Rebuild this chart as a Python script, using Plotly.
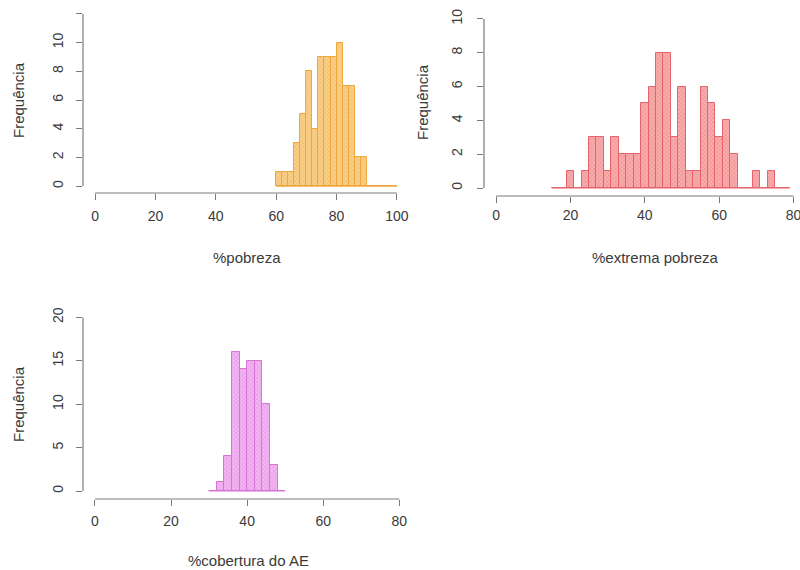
import plotly.graph_objects as go

# ---------------- data ----------------
bin_width = 2

pobreza_start = 60
pobreza_counts = [1, 1, 1, 3, 5, 8, 4, 9, 9, 9, 10, 7, 7, 2, 2, 0, 0, 0, 0, 0]

extrema_start = 15
extrema_counts = [0, 0, 1, 0, 1, 3, 3, 1, 3, 2, 2, 2, 5, 6, 8, 8,
                  3, 6, 1, 1, 6, 5, 3, 4, 2, 0, 0, 1, 0, 1, 0, 0]

cobertura_start = 30
cobertura_counts = [0, 1, 4, 16, 14, 15, 15, 10, 3, 0]

pobreza_xticks = [0, 20, 40, 60, 80, 100]
pobreza_yticks = [0, 2, 4, 6, 8, 10, 12]
pobreza_ylabels = ["0", "2", "4", "6", "8", "10", ""]

extrema_xticks = [0, 20, 40, 60, 80]
extrema_yticks = [0, 2, 4, 6, 8, 10]
extrema_ylabels = ["0", "2", "4", "6", "8", "10"]

cobertura_xticks = [0, 20, 40, 60, 80]
cobertura_yticks = [0, 5, 10, 15, 20]
cobertura_ylabels = ["0", "5", "10", "15", "20"]

y_title = "Frequência"
x_titles = ["%pobreza", "%extrema pobreza", "%cobertura do AE"]

# ---------------- layout / styling ----------------
W, H = 800, 570
FONT = "Liberation Sans, Arial, sans-serif"
TXT = "#3a3a3a"
AX = "#7a7a7a"
TICKLEN = 6

panels = [
    dict(start=pobreza_start, counts=pobreza_counts, xt=pobreza_xticks,
         yt=pobreza_yticks, yl=pobreza_ylabels,
         box=(83, 409, 7, 193), xr=[-4, 104], yr=[-0.48, 12.48],
         light="#F8D08C", mid="#F0B254", dark="#EFA63A", xstand=4, ystand=7,
         xtitle=(247, 257), ytitle=(18, 100)),
    dict(start=extrema_start, counts=extrema_counts, xt=extrema_xticks,
         yt=extrema_yticks, yl=extrema_ylabels,
         box=(484, 800, 12, 196), xr=[-3.23, 81.72], yr=[-0.473, 10.41],
         light="#F8AEAE", mid="#EC7C80", dark="#E5636A", xstand=0, ystand=9,
         xtitle=(655, 257), ytitle=(422, 102)),
    dict(start=cobertura_start, counts=cobertura_counts, xt=cobertura_xticks,
         yt=cobertura_yticks, yl=cobertura_ylabels,
         box=(83, 411.5, 310, 499), xr=[-3.15, 83.2], yr=[-0.92, 20.85],
         light="#F2B6F2", mid="#DD88DD", dark="#D673D6", xstand=3, ystand=7,
         xtitle=(248, 560), ytitle=(18, 404)),
]

fig = go.Figure()
layout = dict(
    width=W, height=H, autosize=False, margin=dict(l=0, r=0, t=0, b=0, pad=0),
    paper_bgcolor="white", plot_bgcolor="white", showlegend=False,
    font=dict(family=FONT, size=14, color=TXT),
)
shapes = []
annotations = []

for i, p in enumerate(panels, start=1):
    xa = "x" if i == 1 else f"x{i}"
    ya = "y" if i == 1 else f"y{i}"
    n = len(p["counts"])
    edges = [p["start"] + k * bin_width for k in range(n + 1)]
    centers = [p["start"] + (k + 0.5) * bin_width for k in range(n)]

    # baseline under the histogram (zero-height bins)
    fig.add_trace(go.Scatter(
        x=[edges[0], edges[-1]], y=[0, 0], mode="lines",
        line=dict(color=p["dark"], width=1.2), xaxis=xa, yaxis=ya,
        hoverinfo="skip"))
    fig.add_trace(go.Bar(
        x=centers, y=p["counts"], width=bin_width, xaxis=xa, yaxis=ya,
        marker=dict(color=p["light"],
                    line=dict(color=p["dark"], width=1),
                    pattern=dict(shape="x", fgcolor=p["mid"], bgcolor=p["light"],
                                 size=3, solidity=0.25, fillmode="replace"))))

    l, r, t, b = p["box"]
    xdom = [l / W, r / W]
    ydom = [1 - b / H, 1 - t / H]
    key = "" if i == 1 else str(i)
    layout["xaxis" + key] = dict(
        domain=xdom, range=p["xr"], anchor=ya, tickvals=p["xt"],
        ticktext=[str(v) for v in p["xt"]],
        ticks="outside", ticklen=TICKLEN, tickcolor=AX, tickwidth=1,
        showline=False, showgrid=False, zeroline=False, automargin=False,
        ticklabelstandoff=p["xstand"], ticklabeloverflow="allow",
        tickfont=dict(family=FONT, size=14, color=TXT), fixedrange=True)
    layout["yaxis" + key] = dict(
        domain=ydom, range=p["yr"], anchor=xa, tickvals=p["yt"],
        ticktext=p["yl"], tickangle=-90,
        ticks="outside", ticklen=TICKLEN, tickcolor=AX, tickwidth=1,
        showline=False, showgrid=False, zeroline=False, automargin=False,
        ticklabelstandoff=p["ystand"], ticklabeloverflow="allow",
        tickfont=dict(family=FONT, size=14, color=TXT), fixedrange=True)

    # R-style axis lines spanning first to last tick
    shapes.append(dict(type="line", xref=xa, yref=f"{ya} domain",
                       x0=p["xt"][0], x1=p["xt"][-1], y0=0, y1=0,
                       line=dict(color=AX, width=1.2)))
    shapes.append(dict(type="line", xref=f"{xa} domain", yref=ya,
                       x0=0, x1=0, y0=p["yt"][0], y1=p["yt"][-1],
                       line=dict(color=AX, width=1.2)))

    annotations.append(dict(
        text=x_titles[i - 1], xref="paper", yref="paper",
        x=p["xtitle"][0] / W, y=1 - p["xtitle"][1] / H,
        xanchor="center", yanchor="middle", showarrow=False,
        font=dict(family=FONT, size=15, color=TXT)))
    annotations.append(dict(
        text=y_title, xref="paper", yref="paper", textangle=-90,
        x=p["ytitle"][0] / W, y=1 - p["ytitle"][1] / H,
        xanchor="center", yanchor="middle", showarrow=False,
        font=dict(family=FONT, size=15, color=TXT)))

layout["shapes"] = shapes
layout["annotations"] = annotations
layout["bargap"] = 0
fig.update_layout(**layout)

fig.write_html(
    "out.html",
    config={"displayModeBar": False, "responsive": False},
    post_script="document.body.style.margin='0';document.body.style.overflow='hidden';",
)
